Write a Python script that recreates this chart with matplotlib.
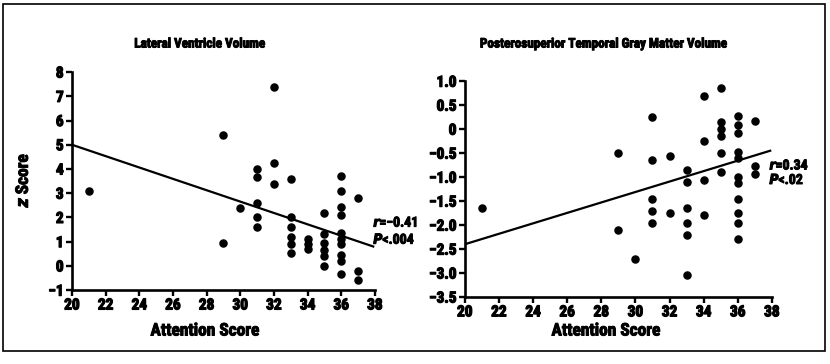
import matplotlib
matplotlib.use("Agg")
import matplotlib.pyplot as plt
import matplotlib.patheffects as pe
from matplotlib.patches import Rectangle
from matplotlib import font_manager

# pick a condensed sans family if one is installed
_names = {f.name for f in font_manager.fontManager.ttflist}
_cond = None
for cand in ['Liberation Sans Narrow', 'DejaVu Sans Condensed', 'Roboto Condensed',
             'Open Sans Condensed', 'Noto Sans Condensed']:
    if cand in _names:
        _cond = cand
        break
if _cond is None:
    _stretch_fonts = [f for f in font_manager.fontManager.ttflist
                      if f.name == 'DejaVu Sans' and str(f.stretch) in ('condensed', 'semi-condensed')]
    if _stretch_fonts:
        FAMILY = ['DejaVu Sans']
        STRETCH = 'condensed'
        SCALE = 1.0
    else:
        FAMILY = ['DejaVu Sans']
        STRETCH = 'normal'
        SCALE = 0.82
else:
    FAMILY = [_cond, 'DejaVu Sans']
    STRETCH = 'condensed'
    SCALE = 1.0

WEIGHT = 'heavy'
plt.rcParams['font.family'] = FAMILY
plt.rcParams['font.stretch'] = STRETCH
plt.rcParams['font.weight'] = WEIGHT
plt.rcParams['mathtext.default'] = 'bf'

# ---------------- data ----------------
left_title = "Lateral Ventricle Volume"
right_title = "Posterosuperior Temporal Gray Matter Volume"
x_label = "Attention Score"

left_x = [21, 29, 29, 30,
          31, 31, 31, 31, 31,
          32, 32, 32,
          33, 33, 33, 33, 33, 33,
          34, 34, 34,
          35, 35, 35, 35, 35, 35,
          36, 36, 36, 36, 36, 36, 36, 36, 36, 36,
          37, 37, 37]
left_y = [3.1, 5.4, 0.95, 2.4,
          4.0, 3.65, 2.6, 2.0, 1.6,
          7.4, 4.25, 3.4,
          3.6, 2.0, 1.6, 1.2, 0.9, 0.55,
          1.1, 0.9, 0.7,
          2.2, 1.3, 0.95, 0.65, 0.4, 0.0,
          3.7, 3.1, 2.45, 2.1, 1.35, 1.1, 0.9, 0.45, 0.2, -0.35,
          2.8, -0.2, -0.6]
left_fit_x = [20, 37.9]
left_fit_y = [5.0, 0.8]
left_r = "\u22120.41"
left_p = ".004"

right_x = [21, 29, 29, 30,
           31, 31, 31, 31, 31,
           32, 32,
           33, 33, 33, 33, 33, 33,
           34, 34, 34, 34,
           35, 35, 35, 35, 35, 35,
           36, 36, 36, 36, 36, 36, 36, 36, 36, 36, 36,
           37, 37, 37]
right_y = [-1.65, -0.5, -2.1, -2.7,
           0.25, -0.65, -1.45, -1.7, -1.95,
           -0.55, -1.75,
           -0.85, -1.1, -1.65, -1.95, -2.2, -3.05,
           0.7, -0.25, -1.05, -1.78,
           0.85, 0.15, 0.0, -0.15, -0.5, -0.9,
           0.27, 0.08, -0.08, -0.48, -0.6, -1.0, -1.13, -1.45, -1.75, -1.95, -2.3,
           0.16, -0.76, -0.93]
right_fit_x = [20, 37.9]
right_fit_y = [-2.4, -0.45]
right_r = "0.34"
right_p = ".02"

x_ticks = [20, 22, 24, 26, 28, 30, 32, 34, 36, 38]
left_yticks = [-1, 0, 1, 2, 3, 4, 5, 6, 7, 8]
right_yticks = [-3.5, -3.0, -2.5, -2.0, -1.5, -1.0, -0.5, 0, 0.5, 1.0]
right_yticklabels = ["\u22123.5", "\u22123.0", "\u22122.5", "\u22122.0", "\u22121.5",
                     "\u22121.0", "\u22120.5", "0", "0.5", "1.0"]

# ---------------- figure ----------------
fig = plt.figure(figsize=(8.30, 3.64), dpi=100)

axL = fig.add_axes([0.0867, 0.203, 0.365, 0.599])
axR = fig.add_axes([0.560, 0.184, 0.370, 0.593])

TICK_FS = 11 * SCALE
ANN_FS = 10 * SCALE
TITLE_FS = 9.5 * SCALE
LABEL_FS = 12.5 * SCALE
HEAVY = [pe.withStroke(linewidth=0.9, foreground='black')]
HEAVY_SM = [pe.withStroke(linewidth=0.7, foreground='black')]


def style(ax):
    for s in ['top', 'right']:
        ax.spines[s].set_visible(False)
    for s in ['left', 'bottom']:
        ax.spines[s].set_linewidth(1.9)
    ax.tick_params(direction='out', length=4, width=1.7, labelsize=TICK_FS, pad=2)
    for lab in ax.get_xticklabels() + ax.get_yticklabels():
        lab.set_fontweight(WEIGHT)
        lab.set_path_effects(HEAVY)


def annotate(ax, x, y1, y2, rtxt, ptxt):
    ax.text(x, y1, "$\\mathit{r}$=" + rtxt, fontsize=ANN_FS, fontweight=WEIGHT,
            va='center', ha='left', path_effects=HEAVY_SM)
    ax.text(x, y2, "$\\mathit{P}$<" + ptxt, fontsize=ANN_FS, fontweight=WEIGHT,
            va='center', ha='left', path_effects=HEAVY_SM)


axL.scatter(left_x, left_y, s=26, color='black', zorder=3, clip_on=False)
axL.plot(left_fit_x, left_fit_y, color='black', lw=1.6)
axL.set_xlim(20, 38)
axL.set_ylim(-1, 8)
axL.set_xticks(x_ticks)
axL.set_yticks(left_yticks)
style(axL)
annotate(axL, 37.9, 1.8, 1.1, left_r, left_p)

axR.scatter(right_x, right_y, s=26, color='black', zorder=3, clip_on=False)
axR.plot(right_fit_x, right_fit_y, color='black', lw=1.6)
axR.set_xlim(20, 38)
axR.set_ylim(-3.5, 1.0)
axR.set_xticks(x_ticks)
axR.set_yticks(right_yticks)
axR.set_yticklabels(right_yticklabels)
style(axR)
annotate(axR, 37.85, -0.75, -1.05, right_r, right_p)

# titles and labels
fig.text(200 / 830, 1 - 44 / 364, left_title, ha='center', va='center',
         fontsize=TITLE_FS, fontweight=WEIGHT, path_effects=HEAVY_SM)
fig.text(604 / 830, 1 - 44 / 364, right_title, ha='center', va='center',
         fontsize=TITLE_FS, fontweight=WEIGHT, path_effects=HEAVY_SM)
fig.text(205 / 830, 1 - 331 / 364, x_label, ha='center', va='center',
         fontsize=LABEL_FS, fontweight=WEIGHT, path_effects=HEAVY_SM)
fig.text(606 / 830, 1 - 331 / 364, x_label, ha='center', va='center',
         fontsize=LABEL_FS, fontweight=WEIGHT, path_effects=HEAVY_SM)
fig.text(23 / 830, 1 - 180 / 364, "$\\mathit{z}$ Score", ha='center', va='center',
         rotation=90, fontsize=LABEL_FS, fontweight=WEIGHT, path_effects=HEAVY_SM)

# outer frame
fig.patches.append(Rectangle((0.004, 0.035), 0.99, 0.955, transform=fig.transFigure,
                             fill=False, edgecolor='black', linewidth=1.2))

fig.savefig("out.png", dpi=100, facecolor='white')
